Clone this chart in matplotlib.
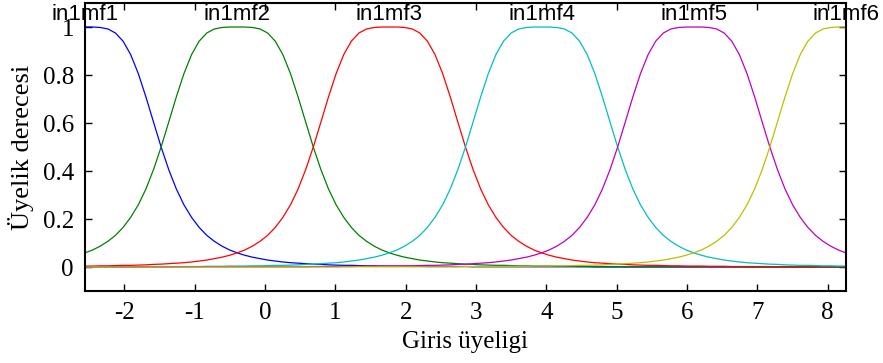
import numpy as np
import matplotlib
matplotlib.use("Agg")
import matplotlib.pyplot as plt

plt.rcParams["axes.unicode_minus"] = False

# membership degrees, on an evenly spaced input grid
x_min, x_max, n_pts = -2.56, 8.26, 101

mf1 = [1.0, 1.0, 0.998, 0.992, 0.975, 0.941, 0.885, 0.806, 0.709, 0.604, 0.5,
       0.406, 0.325, 0.259, 0.207, 0.165, 0.132, 0.107, 0.087, 0.071, 0.059,
       0.049, 0.041, 0.035, 0.029, 0.025, 0.021, 0.018, 0.016, 0.014, 0.012,
       0.011, 0.009, 0.008, 0.007, 0.007, 0.006, 0.005, 0.005, 0.004, 0.004,
       0.004, 0.003, 0.003, 0.003, 0.002, 0.002, 0.002, 0.002, 0.002, 0.002,
       0.001, 0.001, 0.001, 0.001, 0.001, 0.001, 0.001, 0.001, 0.001, 0.001,
       0.001, 0.001, 0.001, 0.001, 0.001, 0.001, 0, 0, 0, 0,
       0, 0, 0, 0, 0, 0, 0, 0, 0, 0,
       0, 0, 0, 0, 0, 0, 0, 0, 0, 0,
       0, 0, 0, 0, 0, 0, 0, 0, 0, 0]
mf2 = [0.059, 0.071, 0.087, 0.107, 0.132, 0.165, 0.207, 0.259, 0.325, 0.406,
       0.5, 0.604, 0.709, 0.806, 0.885, 0.941, 0.975, 0.992, 0.998, 1.0, 1.0,
       1.0, 0.998, 0.992, 0.975, 0.941, 0.885, 0.806, 0.709, 0.604, 0.5,
       0.406, 0.325, 0.259, 0.207, 0.165, 0.132, 0.107, 0.087, 0.071, 0.059,
       0.049, 0.041, 0.035, 0.029, 0.025, 0.021, 0.018, 0.016, 0.014, 0.012,
       0.011, 0.009, 0.008, 0.007, 0.007, 0.006, 0.005, 0.005, 0.004, 0.004,
       0.004, 0.003, 0.003, 0.003, 0.002, 0.002, 0.002, 0.002, 0.002, 0.002,
       0.001, 0.001, 0.001, 0.001, 0.001, 0.001, 0.001, 0.001, 0.001, 0.001,
       0.001, 0.001, 0.001, 0.001, 0.001, 0.001, 0, 0, 0, 0,
       0, 0, 0, 0, 0, 0, 0, 0, 0, 0]
mf3 = [0.004, 0.004, 0.005, 0.005, 0.006, 0.007, 0.007, 0.008, 0.009, 0.011,
       0.012, 0.014, 0.016, 0.018, 0.021, 0.025, 0.029, 0.035, 0.041, 0.049,
       0.059, 0.071, 0.087, 0.107, 0.132, 0.165, 0.207, 0.259, 0.325, 0.406,
       0.5, 0.604, 0.709, 0.806, 0.885, 0.941, 0.975, 0.992, 0.998, 1.0, 1.0,
       1.0, 0.998, 0.992, 0.975, 0.941, 0.885, 0.806, 0.709, 0.604, 0.5,
       0.406, 0.325, 0.259, 0.207, 0.165, 0.132, 0.107, 0.087, 0.071, 0.059,
       0.049, 0.041, 0.035, 0.029, 0.025, 0.021, 0.018, 0.016, 0.014, 0.012,
       0.011, 0.009, 0.008, 0.007, 0.007, 0.006, 0.005, 0.005, 0.004, 0.004,
       0.004, 0.003, 0.003, 0.003, 0.002, 0.002, 0.002, 0.002, 0.002, 0.002,
       0.001, 0.001, 0.001, 0.001, 0.001, 0.001, 0.001, 0.001, 0.001, 0.001]
mf4 = [0.001, 0.001, 0.001, 0.001, 0.001, 0.001, 0.001, 0.001, 0.001, 0.001,
       0.002, 0.002, 0.002, 0.002, 0.002, 0.002, 0.003, 0.003, 0.003, 0.004,
       0.004, 0.004, 0.005, 0.005, 0.006, 0.007, 0.007, 0.008, 0.009, 0.011,
       0.012, 0.014, 0.016, 0.018, 0.021, 0.025, 0.029, 0.035, 0.041, 0.049,
       0.059, 0.071, 0.087, 0.107, 0.132, 0.165, 0.207, 0.259, 0.325, 0.406,
       0.5, 0.604, 0.709, 0.806, 0.885, 0.941, 0.975, 0.992, 0.998, 1.0, 1.0,
       1.0, 0.998, 0.992, 0.975, 0.941, 0.885, 0.806, 0.709, 0.604, 0.5,
       0.406, 0.325, 0.259, 0.207, 0.165, 0.132, 0.107, 0.087, 0.071, 0.059,
       0.049, 0.041, 0.035, 0.029, 0.025, 0.021, 0.018, 0.016, 0.014, 0.012,
       0.011, 0.009, 0.008, 0.007, 0.007, 0.006, 0.005, 0.005, 0.004, 0.004]
mf5 = [0, 0, 0, 0, 0, 0, 0, 0, 0, 0,
       0, 0, 0, 0, 0.001, 0.001, 0.001, 0.001, 0.001, 0.001,
       0.001, 0.001, 0.001, 0.001, 0.001, 0.001, 0.001, 0.001, 0.001, 0.001,
       0.002, 0.002, 0.002, 0.002, 0.002, 0.002, 0.003, 0.003, 0.003, 0.004,
       0.004, 0.004, 0.005, 0.005, 0.006, 0.007, 0.007, 0.008, 0.009, 0.011,
       0.012, 0.014, 0.016, 0.018, 0.021, 0.025, 0.029, 0.035, 0.041, 0.049,
       0.059, 0.071, 0.087, 0.107, 0.132, 0.165, 0.207, 0.259, 0.325, 0.406,
       0.5, 0.604, 0.709, 0.806, 0.885, 0.941, 0.975, 0.992, 0.998, 1.0, 1.0,
       1.0, 0.998, 0.992, 0.975, 0.941, 0.885, 0.806, 0.709, 0.604, 0.5,
       0.406, 0.325, 0.259, 0.207, 0.165, 0.132, 0.107, 0.087, 0.071, 0.059]
mf6 = [0, 0, 0, 0, 0, 0, 0, 0, 0, 0,
       0, 0, 0, 0, 0, 0, 0, 0, 0, 0,
       0, 0, 0, 0, 0, 0, 0, 0, 0, 0,
       0, 0, 0, 0, 0.001, 0.001, 0.001, 0.001, 0.001, 0.001,
       0.001, 0.001, 0.001, 0.001, 0.001, 0.001, 0.001, 0.001, 0.001, 0.001,
       0.002, 0.002, 0.002, 0.002, 0.002, 0.002, 0.003, 0.003, 0.003, 0.004,
       0.004, 0.004, 0.005, 0.005, 0.006, 0.007, 0.007, 0.008, 0.009, 0.011,
       0.012, 0.014, 0.016, 0.018, 0.021, 0.025, 0.029, 0.035, 0.041, 0.049,
       0.059, 0.071, 0.087, 0.107, 0.132, 0.165, 0.207, 0.259, 0.325, 0.406,
       0.5, 0.604, 0.709, 0.806, 0.885, 0.941, 0.975, 0.992, 0.998, 1.0, 1.0]

mf_names = ["in1mf1", "in1mf2", "in1mf3", "in1mf4", "in1mf5", "in1mf6"]
mf_centers = [-2.56, -0.396, 1.768, 3.932, 6.096, 8.26]
x_ticks = [-2, -1, 0, 1, 2, 3, 4, 5, 6, 7, 8]
y_ticks = [0, 0.2, 0.4, 0.6, 0.8, 1]
y_ticklabels = ["0", "0.2", "0.4", "0.6", "0.8", "1"]

colors = [(0, 0, 1), (0, 0.5, 0), (1, 0, 0), (0, 0.75, 0.75),
          (0.75, 0, 0.75), (0.75, 0.75, 0)]

x = np.linspace(x_min, x_max, n_pts)

fig = plt.figure(figsize=(8.83, 3.63), dpi=100)
ax = fig.add_axes([0.0963, 0.1983, 0.8617, 0.7934])

for ys, c in zip([mf1, mf2, mf3, mf4, mf5, mf6], colors):
    ax.plot(x, ys, "-", color=c, linewidth=0.9, clip_on=False)

for name, cx in zip(mf_names, mf_centers):
    ax.text(cx, 1.01, name, ha="center", va="bottom", fontsize=16,
            family="Liberation Sans", color="black")

ax.set_xlim(x_min, x_max)
ax.set_ylim(-0.1, 1.1)
ax.set_xticks(x_ticks)
ax.set_yticks(y_ticks)
ax.set_yticklabels(y_ticklabels)

ax.tick_params(direction="in", length=5, width=1, top=True, right=True,
               labelsize=18, pad=8)
for lab in ax.get_xticklabels() + ax.get_yticklabels():
    lab.set_family("Liberation Serif")
for sp in ax.spines.values():
    sp.set_linewidth(1.5)

ax.set_xlabel("Giris üyeligi", family="Liberation Serif", fontsize=18, labelpad=5)
ax.set_ylabel("Üyelik derecesi", family="Liberation Serif", fontsize=19, labelpad=6)

fig.savefig("out.png", dpi=100)
